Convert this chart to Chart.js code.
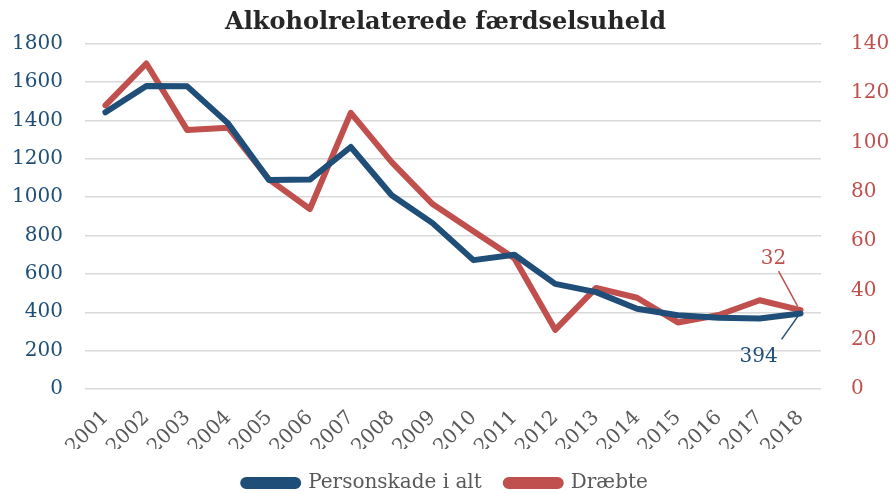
<!DOCTYPE html>
<html>
<head>
<meta charset="utf-8">
<script src="https://cdn.jsdelivr.net/npm/chart.js@4.4.0/dist/chart.umd.min.js"></script>
<style>
    html, body { margin: 0; padding: 0; background: #ffffff; }
    #wrap { width: 891px; height: 493px; }
</style>
</head>
<body>
<div id="wrap"><canvas id="mainChart"></canvas></div>
<script>
// ========================================
// DATA
// ========================================
const years = ['2001', '2002', '2003', '2004', '2005', '2006', '2007', '2008', '2009',
    '2010', '2011', '2012', '2013', '2014', '2015', '2016', '2017', '2018'];
const personskade = [1443, 1580, 1578, 1385, 1090, 1092, 1262, 1010, 865,
    672, 700, 548, 505, 418, 385, 372, 368, 394];
const draebte = [115, 132, 105, 106, 85, 73, 112, 92, 75,
    64, 53, 24, 41, 37, 27, 30, 36, 32];
const leftTicks = [0, 200, 400, 600, 800, 1000, 1200, 1400, 1600, 1800];
const rightTicks = [0, 20, 40, 60, 80, 100, 120, 140];

const BLUE = '#1f4e79';
const RED = '#c0504d';
const FONT = "'DejaVu Serif', serif";

// ========================================
// LAST-POINT LABELS with leader lines
// ========================================
const endLabels = {
    id: 'endLabels',
    afterDatasetsDraw(chart) {
        const c = chart.ctx;
        const specs = [
            { ds: 1, text: String(draebte[draebte.length - 1]), color: RED, tx: -27, ty: -51, l: [-22, -39, -3, -4] },
            { ds: 0, text: String(personskade[personskade.length - 1]), color: BLUE, tx: -42, ty: 43, l: [-19, 26, -2, 2] }
        ];
        specs.forEach(s => {
            const meta = chart.getDatasetMeta(s.ds);
            const pt = meta.data[meta.data.length - 1];
            c.save();
            c.strokeStyle = s.color;
            c.lineWidth = 1.5;
            c.beginPath();
            c.moveTo(pt.x + s.l[0], pt.y + s.l[1]);
            c.lineTo(pt.x + s.l[2], pt.y + s.l[3]);
            c.stroke();
            c.fillStyle = s.color;
            c.font = "20px " + FONT;
            c.textAlign = 'center';
            c.textBaseline = 'middle';
            c.fillText(s.text, pt.x + s.tx, pt.y + s.ty);
            c.restore();
        });
    }
};

const ctx = document.getElementById('mainChart').getContext('2d');

new Chart(ctx, {
    type: 'line',
    data: {
        labels: years,
        datasets: [{
            label: 'Personskade i alt',
            data: personskade,
            borderColor: BLUE,
            backgroundColor: BLUE,
            borderWidth: 6,
            pointRadius: 0,
            borderJoinStyle: 'round',
            borderCapStyle: 'round',
            yAxisID: 'y',
            tension: 0
        }, {
            label: 'Dræbte',
            data: draebte,
            borderColor: RED,
            backgroundColor: RED,
            borderWidth: 6,
            pointRadius: 0,
            borderJoinStyle: 'round',
            borderCapStyle: 'round',
            yAxisID: 'y1',
            tension: 0
        }]
    },
    options: {
        responsive: true,
        maintainAspectRatio: false,
        animation: false,
        layout: { padding: { left: 0, right: 0, top: 0, bottom: -10 } },
        plugins: {
            title: {
                display: true,
                text: 'Alkoholrelaterede færdselsuheld',
                color: '#262626',
                font: { family: FONT, size: 24, weight: 'bold' },
                padding: { top: 8, bottom: 7 }
            },
            legend: {
                position: 'bottom',
                labels: {
                    color: '#595959',
                    font: { family: FONT, size: 20 },
                    boxWidth: 55,
                    boxHeight: 6,
                    useBorderRadius: true,
                    borderRadius: 3,
                    padding: 24
                }
            },
            tooltip: { enabled: false }
        },
        scales: {
            x: {
                offset: true,
                afterFit: axis => { axis.height = 60; },
                grid: { display: false },
                border: { display: false },
                ticks: {
                    color: '#595959',
                    font: { family: FONT, size: 20 },
                    maxRotation: 45,
                    minRotation: 45,
                    padding: 9
                }
            },
            y: {
                position: 'left',
                min: 0,
                max: 1800,
                afterBuildTicks: axis => { axis.ticks = leftTicks.map(v => ({ value: v })); },
                afterFit: axis => { axis.width = 85; },
                grid: { color: '#d9d9d9', lineWidth: 1.5, drawTicks: false },
                border: { display: false },
                ticks: {
                    color: BLUE,
                    font: { family: FONT, size: 20 },
                    padding: 22,
                    callback: v => String(v)
                }
            },
            y1: {
                position: 'right',
                min: 0,
                max: 140,
                afterBuildTicks: axis => { axis.ticks = rightTicks.map(v => ({ value: v })); },
                afterFit: axis => { axis.width = 70; },
                grid: { display: false },
                border: { display: false },
                ticks: {
                    color: RED,
                    font: { family: FONT, size: 20 },
                    padding: 22,
                    callback: v => String(v)
                }
            }
        }
    },
    plugins: [endLabels]
});
</script>
</body>
</html>
